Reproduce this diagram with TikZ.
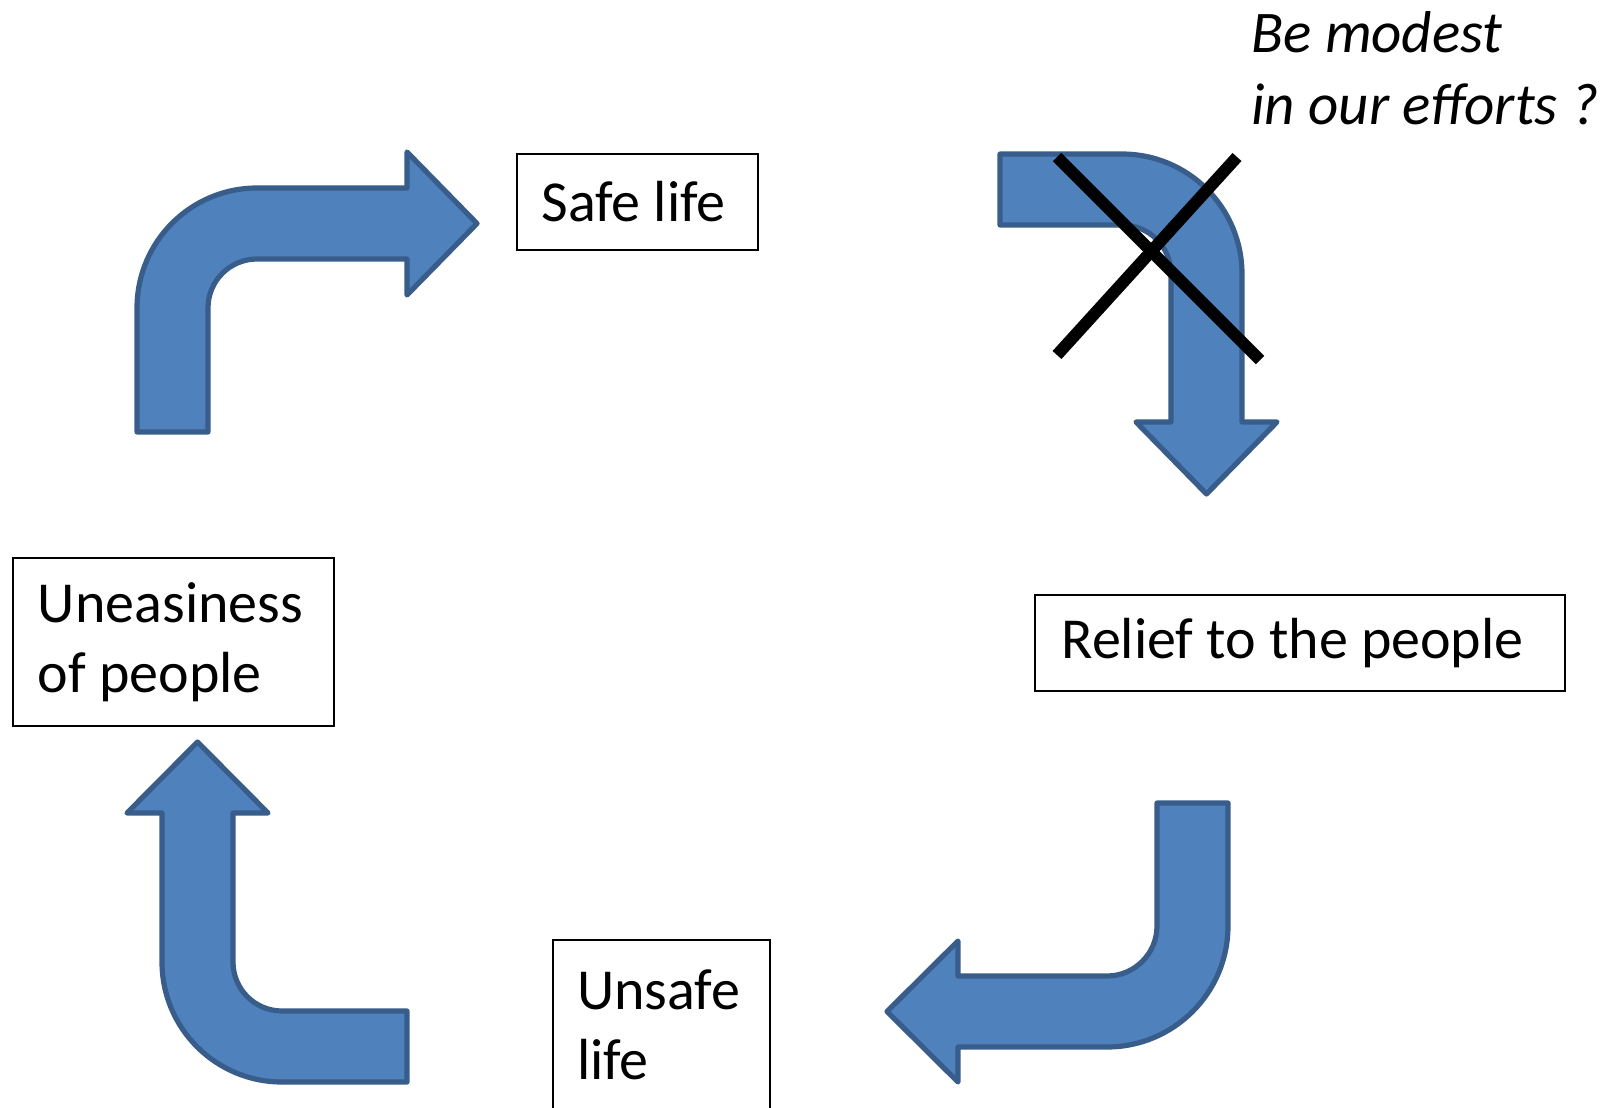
\documentclass[tikz,border=0pt]{standalone}
\usepackage{fontspec}
\setmainfont{Carlito}
\usepackage{tikz}
\usetikzlibrary{calc}

\definecolor{arrowfill}{HTML}{4F81BD}
\definecolor{arrowline}{HTML}{385D8A}

\tikzset{
  bentarrow/.style={fill=arrowfill, draw=arrowline, line width=2.6pt, line join=round},
  textbox/.style={draw=black, line width=1pt, inner xsep=12.5pt, inner ysep=0pt,
    align=flush left, font=\fontsize{29}{35.2}\selectfont},
  crossline/.style={line width=6pt, black}
}

\begin{document}
\begin{tikzpicture}[x=0.5pt,y=-0.5pt]
          \clip (0,0) rectangle (1614,1108);
          \useasboundingbox (0,0) rectangle (1614,1108);

          % the four stations
          \node[textbox, text width=95.5pt, minimum height=48pt] (safe) at (637,202) {Safe life};
          \node[textbox, text width=238pt, minimum height=48pt, inner xsep=13.5pt] (relief) at (1299.5,643) {Relief to the people};
          \node[textbox, text width=84.5pt, minimum height=85pt, inner xsep=12pt] (unsafe) at (661.5,1025) {Unsafe\\life};
          \node[textbox, text width=135.5pt, minimum height=84pt] (uneasy) at (173.5,642) {Uneasiness\\of people};

          % bent block arrows
          \draw[bentarrow] (137,432) -- (137,308) .. controls (137,241.7) and (190.7,188) .. (257,188)
            -- (407,188) -- (407,152) -- (477,223.5) -- (407,295) -- (407,259) -- (257,259)
            .. controls (229.9,259) and (208,280.9) .. (208,308) -- (208,432) -- cycle;
          \draw[bentarrow] (1000,154) -- (1122,154) .. controls (1188.3,154) and (1242,207.7) .. (1242,274)
            -- (1242,422) -- (1277,422) -- (1206.5,494) -- (1136,422) -- (1171,422) -- (1171,274)
            .. controls (1171,246.9) and (1149.1,225) .. (1122,225) -- (1000,225) -- cycle;
          \draw[bentarrow] (1157,803) -- (1228,803) -- (1228,926) .. controls (1228,992.8) and (1173.8,1047) .. (1107,1047)
            -- (958,1047) -- (958,1082) -- (887,1011.5) -- (958,941) -- (958,976) -- (1107,976)
            .. controls (1134.6,976) and (1157,953.6) .. (1157,926) -- cycle;
          \draw[bentarrow] (407,1082) -- (282,1082) .. controls (215.7,1082) and (162,1028.3) .. (162,962)
            -- (162,813) -- (127,813) -- (197.5,742) -- (268,813) -- (233,813) -- (233,962)
            .. controls (233,989.1) and (254.9,1011) .. (282,1011) -- (407,1011) -- cycle;

          % crossed out step
          \coordinate (x1) at (1057,157);
          \coordinate (x2) at (1260,360);
          \coordinate (x3) at (1237,157);
          \coordinate (x4) at (1057,355);
          \draw[crossline] (x1) -- (x2);
          \draw[crossline] (x3) -- (x4);

          \node[anchor=north west, inner sep=0pt, align=flush left,
            font=\fontsize{29.5}{36}\selectfont\itshape] (modest) at (1251,11) {Be modest\\in our efforts ?};
        \end{tikzpicture}
\end{document}
